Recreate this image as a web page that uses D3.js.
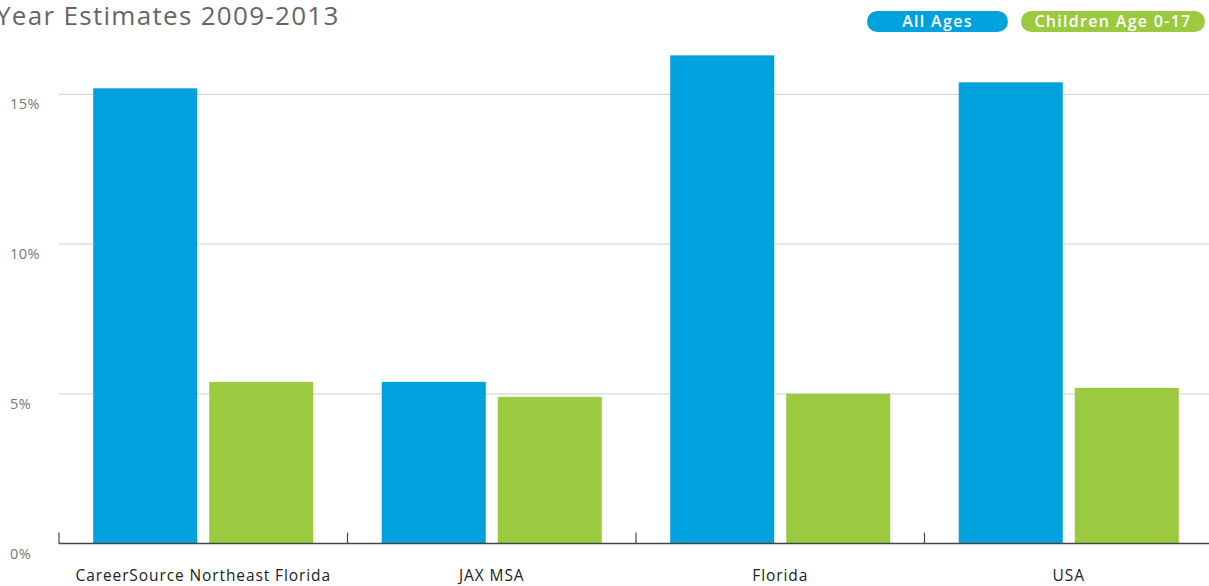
<!DOCTYPE html>
<html>
<head>
<meta charset="utf-8">
<script src="https://cdn.jsdelivr.net/npm/d3@7"></script>
<style>
  html, body { margin: 0; padding: 0; background: #fff; }
  svg { display: block; font-family: "Open Sans", "Noto Sans", sans-serif; }
</style>
</head>
<body>
<svg id="chart" width="1209" height="586"></svg>
<script>
const categories = ["CareerSource Northeast Florida", "JAX MSA", "Florida", "USA"];
const seriesNames = ["All Ages", "Children Age 0-17"];
const allAges = [15.2, 5.4, 16.3, 15.4];
const children = [5.4, 4.9, 5.0, 5.2];
const yTicks = [0, 5, 10, 15];
const yTickLabels = ["0%", "5%", "10%", "15%"];
const colors = ["#00A2DD", "#9BC93F"];
const titleText = "Year Estimates 2009-2013";

const svg = d3.select("#chart");
const left = 59, right = 1213, bottom = 543.6, top15 = 94.3;

const x0 = d3.scaleBand().domain(categories).range([left, right]).paddingInner(0).paddingOuter(0);
const x1 = d3.scaleBand().domain(seriesNames).range([0, x0.bandwidth()]).paddingInner(0.1034).paddingOuter(0.295);
const y = d3.scaleLinear().domain([0, 15]).range([bottom, top15]);

// Title
svg.append("text").attr("x", -4).attr("y", 25)
  .attr("font-size", 26).attr("fill", "#666").attr("letter-spacing", 1.3)
  .text(titleText);

// Gridlines
svg.append("g").selectAll("line").data(yTicks.filter(d => d > 0)).join("line")
  .attr("x1", left).attr("x2", 1209)
  .attr("y1", d => y(d)).attr("y2", d => y(d))
  .attr("stroke", "#d8d8d8").attr("stroke-width", 1.2);

// Y labels
svg.append("g").selectAll("text").data(yTicks).join("text")
  .attr("x", 10).attr("y", d => y(d) + 15)
  .attr("font-size", 14.5).attr("fill", "#777").attr("letter-spacing", 0.5)
  .text((d, i) => yTickLabels[i]);

// Bars
const series = [allAges, children];
const groups = svg.append("g").selectAll("g").data(categories).join("g")
  .attr("transform", d => `translate(${x0(d)},0)`);
groups.selectAll("rect").data((c, ci) => seriesNames.map((s, si) => ({s, si, v: series[si][ci]})))
  .join("rect")
  .attr("x", d => x1(d.s))
  .attr("width", x1.bandwidth())
  .attr("y", d => y(d.v))
  .attr("height", d => bottom - y(d.v))
  .attr("fill", d => colors[d.si]);

// X axis
const axisG = svg.append("g").attr("transform", `translate(0,${bottom})`);
axisG.append("line").attr("x1", left).attr("x2", 1209).attr("y1", 0).attr("y2", 0)
  .attr("stroke", "#444").attr("stroke-width", 1.5);
const boundaries = categories.map(c => x0(c));
axisG.selectAll("line.tick").data(boundaries).join("line").attr("class", "tick")
  .attr("x1", d => d).attr("x2", d => d).attr("y1", 0).attr("y2", -11)
  .attr("stroke", "#444").attr("stroke-width", 1.2);
axisG.selectAll("text").data(categories).join("text")
  .attr("x", d => x0(d) + x0.bandwidth() / 2).attr("y", 37)
  .attr("text-anchor", "middle").attr("font-size", 15.5).attr("fill", "#222")
  .attr("letter-spacing", 0.9)
  .text(d => d);

// Legend pills
const legend = [
  {name: seriesNames[0], x: 867, w: 141, c: colors[0]},
  {name: seriesNames[1], x: 1021, w: 184, c: colors[1]}
];
const lg = svg.append("g").selectAll("g").data(legend).join("g");
lg.append("rect").attr("x", d => d.x).attr("y", 11).attr("width", d => d.w).attr("height", 21)
  .attr("rx", 10.5).attr("fill", d => d.c);
lg.append("text").attr("x", d => d.x + d.w / 2).attr("y", 27)
  .attr("text-anchor", "middle").attr("font-size", 16).attr("font-weight", 600)
  .attr("letter-spacing", 1.3)
  .attr("fill", "#fff").text(d => d.name);
</script>
</body>
</html>
